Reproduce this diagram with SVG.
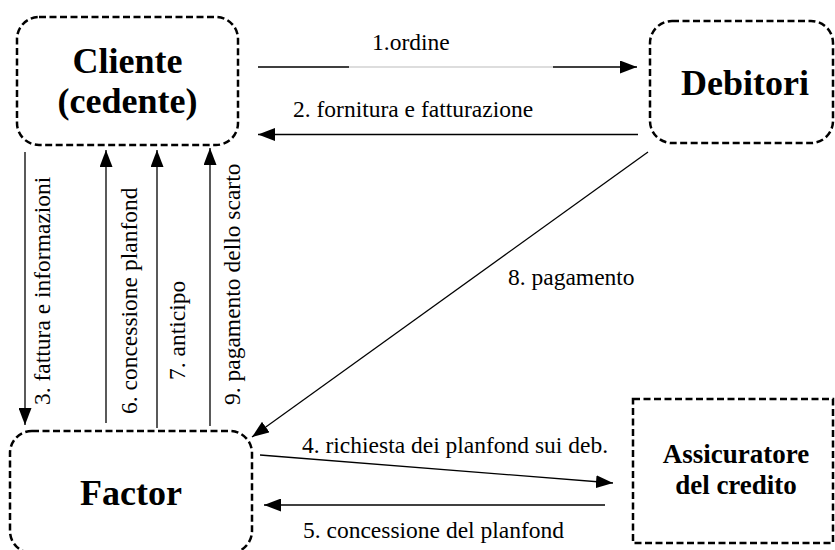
<svg xmlns="http://www.w3.org/2000/svg" width="835" height="550" viewBox="0 0 835 550">
<style>
.box{fill:none;stroke:#000;stroke-width:2.5;stroke-dasharray:7 3.5}
.title{font-weight:bold;font-size:36px;fill:#000;text-anchor:middle}
.title2{font-weight:bold;font-size:27px;fill:#000;text-anchor:middle}
.lbl{font-size:23.5px;fill:#000}
.edge{fill:none;stroke:#000;stroke-width:1.3}
</style>
<defs>
<marker id="ah" viewBox="0 0 17 13" refX="17" refY="6.5" markerWidth="17" markerHeight="13" markerUnits="userSpaceOnUse" orient="auto">
<path d="M0,0 L17,6.5 L0,13 Z" fill="#000"/>
</marker>
</defs>
<rect width="835" height="550" fill="#fff"/>

<g id="cliente" font-family="Liberation Serif, Times New Roman, serif">
<rect class="box" x="17" y="17" width="221" height="128" rx="22"/>
<text class="title" x="127.5" y="73">Cliente</text>
<text class="title" x="127.5" y="113">(cedente)</text>
</g>

<g id="debitori" font-family="Liberation Serif, Times New Roman, serif">
<rect class="box" x="650" y="21" width="183" height="122" rx="22"/>
<text class="title" x="745" y="95">Debitori</text>
</g>

<g id="factor" font-family="Liberation Serif, Times New Roman, serif">
<rect class="box" x="10" y="431" width="242" height="122" rx="22"/>
<text class="title" x="131" y="505">Factor</text>
</g>

<g id="assicuratore" font-family="Liberation Serif, Times New Roman, serif">
<rect class="box" x="633" y="399" width="200" height="144"/>
<text class="title2" x="736" y="463">Assicuratore</text>
<text class="title2" x="736" y="494">del credito</text>
</g>

<g id="connectors" font-family="Liberation Serif, Times New Roman, serif">
<line class="edge" x1="258" y1="67" x2="637" y2="67" stroke-dasharray="91 204 1000" marker-end="url(#ah)"/>
<line x1="349" y1="67" x2="553" y2="67" stroke="#bbb" stroke-width="1"/>
<line class="edge" x1="638" y1="134.5" x2="258" y2="134.5" stroke="#444" marker-end="url(#ah)"/>
<line class="edge" x1="25" y1="152" x2="25" y2="425" marker-end="url(#ah)"/>
<line class="edge" x1="106" y1="423" x2="106" y2="150" stroke="#333" marker-end="url(#ah)"/>
<line class="edge" x1="157" y1="428" x2="157" y2="150" stroke="#333" marker-end="url(#ah)"/>
<line class="edge" x1="210" y1="426" x2="210" y2="148" stroke="#333" marker-end="url(#ah)"/>
<line class="edge" x1="648" y1="152" x2="252" y2="437" marker-end="url(#ah)"/>
<line class="edge" x1="260" y1="455" x2="613" y2="483" marker-end="url(#ah)"/>
<line class="edge" x1="605" y1="505" x2="264" y2="505" marker-end="url(#ah)"/>

<text class="lbl" x="372" y="50">1.ordine</text>
<text class="lbl" x="293" y="117">2. fornitura e fatturazione</text>
<text class="lbl" transform="translate(50,405) rotate(-90)">3. fattura e informazioni</text>
<text class="lbl" transform="translate(137,414) rotate(-90)">6. concessione planfond</text>
<text class="lbl" transform="translate(185,380) rotate(-90)">7. anticipo</text>
<text class="lbl" transform="translate(240,405) rotate(-90)">9. pagamento dello scarto</text>
<text class="lbl" x="508" y="285">8. pagamento</text>
<text class="lbl" x="302" y="453">4. richiesta dei planfond sui deb.</text>
<text class="lbl" x="303" y="538">5. concessione del planfond</text>
</g>
</svg>
